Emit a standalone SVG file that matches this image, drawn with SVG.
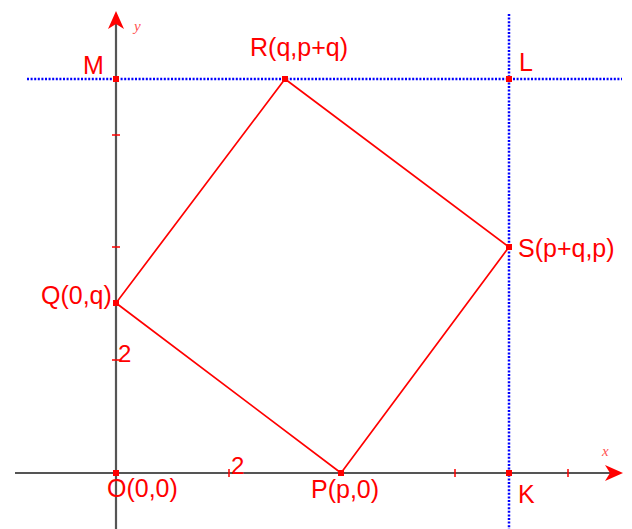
<svg xmlns="http://www.w3.org/2000/svg" width="632" height="529" viewBox="0 0 632 529">
<defs>
<style>
.axis{stroke:#555;stroke-width:2.2;fill:none}
.tick{stroke:#f00;stroke-width:1.5}
.dot{stroke:#00f;stroke-width:2.5;stroke-dasharray:2 1.6;fill:none}
.edge{stroke:#f00;stroke-width:1.7;fill:none}
.lbl{font-family:"Liberation Sans",Arial,sans-serif;font-size:25px;fill:#f00}
.num{font-family:"Liberation Sans",Arial,sans-serif;font-size:24px;fill:#f00}
.ax{font-family:"Liberation Serif",serif;font-style:italic;font-size:15px;fill:#f00;opacity:0.7}
.pt{fill:#f00}
</style>
</defs>
<rect width="632" height="529" fill="#fff"/>
<g id="axes">
<line class="axis" x1="15" y1="473" x2="614" y2="473"/>
<line class="axis" x1="116" y1="529" x2="116" y2="20"/>
<path d="M623,473 L605,465 L610,473 L605,481 Z" fill="#f00"/>
<path d="M116,11 L108,29 L116,24 L124,29 Z" fill="#f00"/>
<line class="tick" x1="229" y1="469" x2="229" y2="477"/>
<line class="tick" x1="455" y1="469" x2="455" y2="477"/>
<line class="tick" x1="568" y1="469" x2="568" y2="477"/>
<line class="tick" x1="112" y1="360" x2="120" y2="360"/>
<line class="tick" x1="112" y1="247" x2="120" y2="247"/>
<line class="tick" x1="112" y1="135" x2="120" y2="135"/>
<text class="ax" x="602" y="456">x</text>
<text class="ax" x="134" y="31">y</text>
<text class="num" x="118" y="362">2</text>
<text class="num" x="231" y="474">2</text>
</g>
<g id="connectors">
<line class="dot" x1="27" y1="79" x2="622" y2="79"/>
<line class="dot" x1="509" y1="14" x2="509" y2="529"/>
<path class="edge" d="M341,473 L509,247 L285,79 L116,303 Z"/>
</g>
<g id="node-O"><rect class="pt" x="113" y="470" width="6" height="6"/><text class="lbl" x="107" y="497">O(0,0)</text></g>
<g id="node-P"><rect class="pt" x="338" y="470" width="6" height="6"/><text class="lbl" x="311" y="498">P(p,0)</text></g>
<g id="node-K"><rect class="pt" x="506" y="470" width="6" height="6"/><text class="lbl" x="518" y="503">K</text></g>
<g id="node-S"><rect class="pt" x="506" y="244" width="6" height="6"/><text class="lbl" x="518" y="257">S(p+q,p)</text></g>
<g id="node-L"><rect class="pt" x="506" y="76" width="6" height="6"/><text class="lbl" x="519" y="71">L</text></g>
<g id="node-R"><rect class="pt" x="282" y="76" width="6" height="6"/><text class="lbl" x="250" y="56">R(q,p+q)</text></g>
<g id="node-M"><rect class="pt" x="113" y="76" width="6" height="6"/><text class="lbl" x="83" y="74">M</text></g>
<g id="node-Q"><rect class="pt" x="113" y="300" width="6" height="6"/><text class="lbl" x="41" y="304">Q(0,q)</text></g>
</svg>
